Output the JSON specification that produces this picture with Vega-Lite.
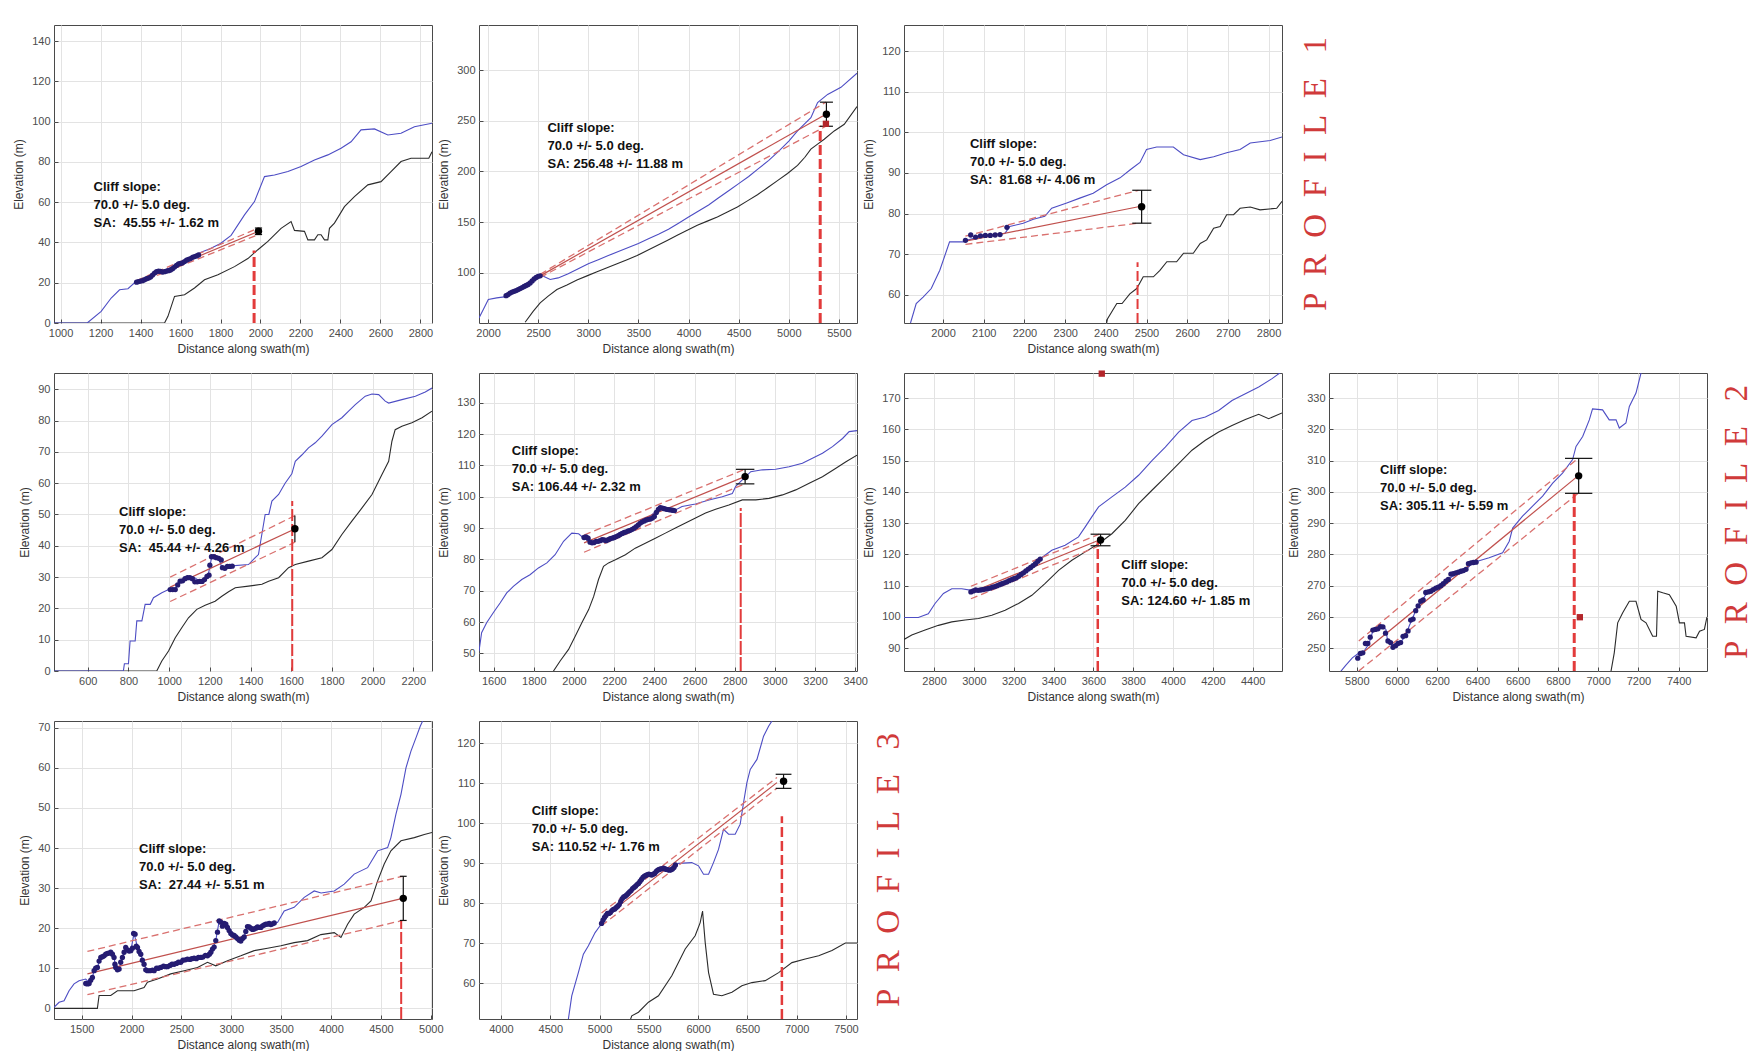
{
"$schema": "https://vega.github.io/schema/vega-lite/v6.json",
"padding": {"left": 12, "top": 24, "right": 0, "bottom": 0},
"background": "white",
"bounds": "flush",
"columns": 4,
"spacing": {"row": 50, "column": 47},
"config": {
 "view": {"stroke": "#4a4a4a", "strokeWidth": 1},
 "axis": {"gridColor": "#e3e3e3", "gridWidth": 1, "domain": false, "tickColor": "#4a4a4a", "tickSize": -4, "labelPadding": 8, "labelColor": "#4d4d4d", "labelFont": "Liberation Sans", "labelFontSize": 11, "titleFont": "Liberation Sans", "titleFontSize": 12, "titleFontWeight": "normal", "titleColor": "#333333", "labelFlush": false, "labelOverlap": false},
 "axisX": {"titlePadding": 5},
 "axisY": {"titlePadding": 6}
},
"concat": [
{"width": 378, "height": 298,
 "data": {"values": [
  {"s":"b","x":967,"y":0},{"s":"b","x":1133,"y":0},{"s":"b","x":1203,"y":5.8},{"s":"b","x":1253,"y":12.4},{"s":"b","x":1295,"y":16.5},{"s":"b","x":1337,"y":17},{"s":"b","x":1370,"y":20},{"s":"b","x":1400,"y":21},{"s":"b","x":1450,"y":23.5},{"s":"b","x":1500,"y":25.5},{"s":"b","x":1550,"y":27.5},{"s":"b","x":1600,"y":30},{"s":"b","x":1650,"y":32.5},{"s":"b","x":1700,"y":35},{"s":"b","x":1750,"y":37},{"s":"b","x":1800,"y":39.5},{"s":"b","x":1853,"y":43.5},{"s":"b","x":1920,"y":53.7},{"s":"b","x":1970,"y":60.3},{"s":"b","x":2020,"y":72.7},{"s":"b","x":2070,"y":73.5},{"s":"b","x":2137,"y":75.2},{"s":"b","x":2203,"y":77.7},{"s":"b","x":2270,"y":81},{"s":"b","x":2337,"y":83.5},{"s":"b","x":2403,"y":86.8},{"s":"b","x":2453,"y":90},{"s":"b","x":2503,"y":95.9},{"s":"b","x":2570,"y":96.4},{"s":"b","x":2637,"y":93.4},{"s":"b","x":2703,"y":94.2},{"s":"b","x":2770,"y":97.5},{"s":"b","x":2858,"y":99.2},
  {"s":"k","x":967,"y":0},{"s":"k","x":1520,"y":0},{"s":"k","x":1537,"y":3.3},{"s":"k","x":1570,"y":13.2},{"s":"k","x":1620,"y":14},{"s":"k","x":1670,"y":17.4},{"s":"k","x":1720,"y":21.5},{"s":"k","x":1787,"y":24},{"s":"k","x":1870,"y":28},{"s":"k","x":1937,"y":32},{"s":"k","x":1987,"y":36.4},{"s":"k","x":2037,"y":40.5},{"s":"k","x":2103,"y":47},{"s":"k","x":2153,"y":50.4},{"s":"k","x":2170,"y":46},{"s":"k","x":2220,"y":45.5},{"s":"k","x":2237,"y":41.3},{"s":"k","x":2270,"y":41.3},{"s":"k","x":2287,"y":43.8},{"s":"k","x":2303,"y":43.8},{"s":"k","x":2320,"y":41.3},{"s":"k","x":2337,"y":41.3},{"s":"k","x":2345,"y":47},{"s":"k","x":2370,"y":49.6},{"s":"k","x":2420,"y":57.8},{"s":"k","x":2470,"y":62.8},{"s":"k","x":2537,"y":68.6},{"s":"k","x":2603,"y":70.2},{"s":"k","x":2653,"y":75.2},{"s":"k","x":2703,"y":80.2},{"s":"k","x":2753,"y":81.8},{"s":"k","x":2842,"y":81.8},{"s":"k","x":2858,"y":85},
  {"s":"p","x":1380,"y":20.3},{"s":"p","x":1390,"y":20.6},{"s":"p","x":1400,"y":20.8},{"s":"p","x":1410,"y":21},{"s":"p","x":1420,"y":21.5},{"s":"p","x":1430,"y":22},{"s":"p","x":1440,"y":22.3},{"s":"p","x":1450,"y":22.8},{"s":"p","x":1460,"y":23.8},{"s":"p","x":1470,"y":24.8},{"s":"p","x":1480,"y":25.5},{"s":"p","x":1490,"y":25.8},{"s":"p","x":1500,"y":25.6},{"s":"p","x":1510,"y":25.3},{"s":"p","x":1520,"y":25.5},{"s":"p","x":1530,"y":25.8},{"s":"p","x":1540,"y":26},{"s":"p","x":1550,"y":26.3},{"s":"p","x":1560,"y":27},{"s":"p","x":1570,"y":27.8},{"s":"p","x":1580,"y":28.6},{"s":"p","x":1590,"y":29.3},{"s":"p","x":1600,"y":29.6},{"s":"p","x":1610,"y":29.9},{"s":"p","x":1620,"y":30.5},{"s":"p","x":1630,"y":31.2},{"s":"p","x":1640,"y":31.6},{"s":"p","x":1650,"y":32},{"s":"p","x":1660,"y":32.6},{"s":"p","x":1670,"y":33},{"s":"p","x":1680,"y":33.3},{"s":"p","x":1690,"y":33.8},
  {"s":"f","x":1380,"y":20.3},{"s":"f","x":1990,"y":45.55},
  {"s":"u","x":1380,"y":21.1},{"s":"u","x":1990,"y":47.17},
  {"s":"l","x":1380,"y":19.5},{"s":"l","x":1990,"y":43.93},
  {"s":"v","x":1968,"y":0,"y2":36},
  {"s":"e","x":1990,"y":45.55,"lo":43.93,"hi":47.17,"xl":1972,"xr":2008},
  {"s":"t","x":1165,"y":70.5,"label":"Cliff slope:\n70.0 +/- 5.0 deg.\n\u00a0SA:\u00a0 45.55 +/- 1.62 m"}
 ]},
 "encoding": {
  "x": {"field":"x","type":"quantitative","title":"Distance along swath(m)","scale":{"domain":[967,2858],"nice":false,"zero":false},"axis":{"values":[1000,1200,1400,1600,1800,2000,2200,2400,2600,2800],"format":"d"}},
  "y": {"field":"y","type":"quantitative","title":"Elevation (m)","scale":{"domain":[0,148],"nice":false,"zero":false},"axis":{"values":[0,20,40,60,80,100,120,140],"format":"d"}}
 },
 "layer": [
  {"transform":[{"filter":"datum.s==='k'"}],"mark":{"type":"line","color":"#2b2b2b","strokeWidth":1.1,"clip":true}},
  {"transform":[{"filter":"datum.s==='b'"}],"mark":{"type":"line","color":"#4d4dc4","strokeWidth":1.1,"clip":true}},
  {"transform":[{"filter":"datum.s==='u'||datum.s==='l'"}],"mark":{"type":"line","color":"#d9706e","strokeWidth":1.3,"strokeDash":[7,4],"clip":true},"encoding":{"detail":{"field":"s","type":"nominal"}}},
  {"transform":[{"filter":"datum.s==='f'"}],"mark":{"type":"line","color":"#c0504d","strokeWidth":1.2,"clip":true}},
  {"transform":[{"filter":"datum.s==='p'"}],"mark":{"type":"circle","color":"#251c72","opacity":1,"size":28,"clip":true}},
  {"transform":[{"filter":"datum.s==='v'"}],"mark":{"type":"rule","color":"#e23b3b","strokeWidth":3,"strokeDash":[10,4],"clip":true},"encoding":{"y2":{"field":"y2"}}},
  {"transform":[{"filter":"datum.s==='e'"}],"mark":{"type":"rule","color":"#111111","strokeWidth":1.2},"encoding":{"y":{"field":"lo","type":"quantitative"},"y2":{"field":"hi"}}},
  {"transform":[{"filter":"datum.s==='e'"}],"mark":{"type":"rule","color":"#111111","strokeWidth":1.2},"encoding":{"x":{"field":"xl","type":"quantitative"},"x2":{"field":"xr"},"y":{"field":"lo","type":"quantitative"}}},
  {"transform":[{"filter":"datum.s==='e'"}],"mark":{"type":"rule","color":"#111111","strokeWidth":1.2},"encoding":{"x":{"field":"xl","type":"quantitative"},"x2":{"field":"xr"},"y":{"field":"hi","type":"quantitative"}}},
  {"transform":[{"filter":"datum.s==='e'"}],"mark":{"type":"circle","color":"#000000","size":55,"opacity":1}},
  {"transform":[{"filter":"datum.s==='t'"}],"mark":{"type":"text","align":"left","baseline":"top","font":"Liberation Sans","fontWeight":"bold","fontSize":13,"lineBreak":"\n","lineHeight":18,"color":"#111111"},"encoding":{"text":{"field":"label"}}}
 ]
},
{"width": 378, "height": 298,
 "data": {"values": [
  {"s":"b","x":1910,"y":55.5},{"s":"b","x":1953,"y":63.8},{"s":"b","x":2003,"y":73.6},{"s":"b","x":2087,"y":75.3},{"s":"b","x":2180,"y":76.5},{"s":"b","x":2250,"y":80.5},{"s":"b","x":2320,"y":84.5},{"s":"b","x":2400,"y":88.5},{"s":"b","x":2450,"y":93},{"s":"b","x":2500,"y":97.5},{"s":"b","x":2553,"y":96.7},{"s":"b","x":2620,"y":93.4},{"s":"b","x":2700,"y":95},{"s":"b","x":2800,"y":99},{"s":"b","x":2900,"y":104},{"s":"b","x":3000,"y":109},{"s":"b","x":3100,"y":113},{"s":"b","x":3200,"y":117},{"s":"b","x":3300,"y":121},{"s":"b","x":3400,"y":125},{"s":"b","x":3500,"y":129},{"s":"b","x":3600,"y":133.5},{"s":"b","x":3700,"y":138},{"s":"b","x":3800,"y":143},{"s":"b","x":3900,"y":149},{"s":"b","x":4000,"y":155},{"s":"b","x":4100,"y":161},{"s":"b","x":4200,"y":167},{"s":"b","x":4300,"y":174},{"s":"b","x":4400,"y":181},{"s":"b","x":4500,"y":188},{"s":"b","x":4600,"y":195},{"s":"b","x":4700,"y":203},{"s":"b","x":4800,"y":211},{"s":"b","x":4900,"y":220},{"s":"b","x":5000,"y":230},{"s":"b","x":5087,"y":240},{"s":"b","x":5220,"y":253},{"s":"b","x":5287,"y":268},{"s":"b","x":5387,"y":276},{"s":"b","x":5520,"y":283},{"s":"b","x":5680,"y":297},
  {"s":"k","x":2370,"y":51.2},{"s":"k","x":2450,"y":62},{"s":"k","x":2520,"y":70.3},{"s":"k","x":2600,"y":77},{"s":"k","x":2687,"y":83.5},{"s":"k","x":2787,"y":88},{"s":"k","x":2887,"y":93},{"s":"k","x":2987,"y":97},{"s":"k","x":3087,"y":101},{"s":"k","x":3187,"y":105},{"s":"k","x":3287,"y":109},{"s":"k","x":3387,"y":113},{"s":"k","x":3487,"y":117},{"s":"k","x":3587,"y":122},{"s":"k","x":3687,"y":127},{"s":"k","x":3787,"y":132},{"s":"k","x":3887,"y":137},{"s":"k","x":3987,"y":142},{"s":"k","x":4087,"y":147},{"s":"k","x":4187,"y":151},{"s":"k","x":4287,"y":155},{"s":"k","x":4387,"y":160},{"s":"k","x":4487,"y":165},{"s":"k","x":4587,"y":171},{"s":"k","x":4687,"y":177},{"s":"k","x":4787,"y":184},{"s":"k","x":4887,"y":191},{"s":"k","x":4987,"y":198},{"s":"k","x":5087,"y":206},{"s":"k","x":5160,"y":214},{"s":"k","x":5220,"y":222},{"s":"k","x":5287,"y":227},{"s":"k","x":5353,"y":231.8},{"s":"k","x":5453,"y":240},{"s":"k","x":5553,"y":246.6},{"s":"k","x":5680,"y":264},
  {"s":"p","x":2180,"y":77.5},{"s":"p","x":2200,"y":78.5},{"s":"p","x":2220,"y":80},{"s":"p","x":2240,"y":81},{"s":"p","x":2260,"y":81.8},{"s":"p","x":2280,"y":82.5},{"s":"p","x":2300,"y":83.5},{"s":"p","x":2320,"y":84.5},{"s":"p","x":2340,"y":85.5},{"s":"p","x":2360,"y":86.5},{"s":"p","x":2380,"y":87.5},{"s":"p","x":2400,"y":88.5},{"s":"p","x":2420,"y":90},{"s":"p","x":2440,"y":92},{"s":"p","x":2460,"y":94},{"s":"p","x":2480,"y":95.5},{"s":"p","x":2500,"y":96.5},{"s":"p","x":2520,"y":97},
  {"s":"f","x":2520,"y":97},{"s":"f","x":5370,"y":256.48},
  {"s":"u","x":2520,"y":98.5},{"s":"u","x":5370,"y":268.36},
  {"s":"l","x":2520,"y":95.5},{"s":"l","x":5370,"y":244.6},
  {"s":"v","x":5313,"y":50.5,"y2":245},
  {"s":"e","x":5375,"y":256.48,"lo":244.6,"hi":268.36,"xl":5310,"xr":5440},
  {"s":"q","x":5370,"y":247},
  {"s":"t","x":2593,"y":249,"label":"Cliff slope:\n70.0 +/- 5.0 deg.\n\u00a0SA: 256.48 +/- 11.88 m"}
 ]},
 "encoding": {
  "x": {"field":"x","type":"quantitative","title":"Distance along swath(m)","scale":{"domain":[1910,5680],"nice":false,"zero":false},"axis":{"values":[2000,2500,3000,3500,4000,4500,5000,5500],"format":"d"}},
  "y": {"field":"y","type":"quantitative","title":"Elevation (m)","scale":{"domain":[50.5,344.5],"nice":false,"zero":false},"axis":{"values":[100,150,200,250,300],"format":"d"}}
 },
 "layer": [
  {"transform":[{"filter":"datum.s==='k'"}],"mark":{"type":"line","color":"#2b2b2b","strokeWidth":1.1,"clip":true}},
  {"transform":[{"filter":"datum.s==='b'"}],"mark":{"type":"line","color":"#4d4dc4","strokeWidth":1.1,"clip":true}},
  {"transform":[{"filter":"datum.s==='u'||datum.s==='l'"}],"mark":{"type":"line","color":"#d9706e","strokeWidth":1.3,"strokeDash":[7,4],"clip":true},"encoding":{"detail":{"field":"s","type":"nominal"}}},
  {"transform":[{"filter":"datum.s==='f'"}],"mark":{"type":"line","color":"#c0504d","strokeWidth":1.2,"clip":true}},
  {"transform":[{"filter":"datum.s==='p'"}],"mark":{"type":"circle","color":"#251c72","opacity":1,"size":28,"clip":true}},
  {"transform":[{"filter":"datum.s==='v'"}],"mark":{"type":"rule","color":"#e23b3b","strokeWidth":3,"strokeDash":[10,4],"clip":true},"encoding":{"y2":{"field":"y2"}}},
  {"transform":[{"filter":"datum.s==='e'"}],"mark":{"type":"rule","color":"#111111","strokeWidth":1.2},"encoding":{"y":{"field":"lo","type":"quantitative"},"y2":{"field":"hi"}}},
  {"transform":[{"filter":"datum.s==='e'"}],"mark":{"type":"rule","color":"#111111","strokeWidth":1.2},"encoding":{"x":{"field":"xl","type":"quantitative"},"x2":{"field":"xr"},"y":{"field":"lo","type":"quantitative"}}},
  {"transform":[{"filter":"datum.s==='e'"}],"mark":{"type":"rule","color":"#111111","strokeWidth":1.2},"encoding":{"x":{"field":"xl","type":"quantitative"},"x2":{"field":"xr"},"y":{"field":"hi","type":"quantitative"}}},
  {"transform":[{"filter":"datum.s==='e'"}],"mark":{"type":"circle","color":"#000000","size":55,"opacity":1}},
  {"transform":[{"filter":"datum.s==='q'"}],"mark":{"type":"square","color":"#b3262b","size":40,"opacity":1}},
  {"transform":[{"filter":"datum.s==='t'"}],"mark":{"type":"text","align":"left","baseline":"top","font":"Liberation Sans","fontWeight":"bold","fontSize":13,"lineBreak":"\n","lineHeight":18,"color":"#111111"},"encoding":{"text":{"field":"label"}}}
 ]
},
{"width": 378, "height": 298,
 "title": {"text": "P\u00a0\u00a0R\u00a0\u00a0O\u00a0\u00a0F\u00a0\u00a0I\u00a0\u00a0L\u00a0\u00a0E\u00a0\u00a0\u00a01", "orient": "right", "angle": -90, "baseline": "top", "anchor": "middle", "offset": -15, "font": "Liberation Serif", "fontSize": 33, "fontWeight": "normal", "color": "#d03a3a"},
 "data": {"values": [
  {"s":"b","x":1904,"y":50},{"s":"b","x":1920,"y":53},{"s":"b","x":1934,"y":57.8},{"s":"b","x":1951,"y":59.4},{"s":"b","x":1971,"y":61.5},{"s":"b","x":1992,"y":66},{"s":"b","x":2016,"y":73},{"s":"b","x":2049,"y":73},{"s":"b","x":2062,"y":73.5},{"s":"b","x":2107,"y":74.7},{"s":"b","x":2152,"y":75.1},{"s":"b","x":2164,"y":76.8},{"s":"b","x":2197,"y":77.6},{"s":"b","x":2222,"y":78.6},{"s":"b","x":2250,"y":79.3},{"s":"b","x":2267,"y":81.3},{"s":"b","x":2304,"y":82.6},{"s":"b","x":2336,"y":83.8},{"s":"b","x":2369,"y":85},{"s":"b","x":2402,"y":87.1},{"s":"b","x":2435,"y":88.8},{"s":"b","x":2460,"y":90.8},{"s":"b","x":2484,"y":92.6},{"s":"b","x":2500,"y":95.8},{"s":"b","x":2525,"y":96.4},{"s":"b","x":2566,"y":96.4},{"s":"b","x":2591,"y":94.5},{"s":"b","x":2632,"y":93.3},{"s":"b","x":2665,"y":94},{"s":"b","x":2697,"y":95},{"s":"b","x":2730,"y":95.8},{"s":"b","x":2755,"y":97.4},{"s":"b","x":2804,"y":98},{"s":"b","x":2833,"y":98.9},
  {"s":"k","x":2400,"y":52},{"s":"k","x":2404,"y":54},{"s":"k","x":2427,"y":57.8},{"s":"k","x":2440,"y":57.8},{"s":"k","x":2459,"y":60.2},{"s":"k","x":2476,"y":61.5},{"s":"k","x":2492,"y":64.4},{"s":"k","x":2517,"y":64.4},{"s":"k","x":2533,"y":66},{"s":"k","x":2550,"y":68.1},{"s":"k","x":2574,"y":68.1},{"s":"k","x":2591,"y":70.2},{"s":"k","x":2615,"y":70.2},{"s":"k","x":2632,"y":72.6},{"s":"k","x":2648,"y":73.5},{"s":"k","x":2665,"y":76.4},{"s":"k","x":2681,"y":76.8},{"s":"k","x":2697,"y":79.7},{"s":"k","x":2714,"y":79.7},{"s":"k","x":2730,"y":81.3},{"s":"k","x":2755,"y":81.6},{"s":"k","x":2779,"y":80.9},{"s":"k","x":2820,"y":81.3},{"s":"k","x":2833,"y":83},
  {"s":"p","x":2055,"y":73.4},{"s":"p","x":2068,"y":74.7},{"s":"p","x":2080,"y":74.2},{"s":"p","x":2092,"y":74.5},{"s":"p","x":2104,"y":74.6},{"s":"p","x":2116,"y":74.6},{"s":"p","x":2128,"y":74.7},{"s":"p","x":2140,"y":74.8},{"s":"p","x":2157,"y":76.6},
  {"s":"f","x":2055,"y":73.2},{"s":"f","x":2480,"y":81.68},
  {"s":"u","x":2055,"y":74.4},{"s":"u","x":2480,"y":85.74},
  {"s":"l","x":2055,"y":72.4},{"s":"l","x":2480,"y":77.62},
  {"s":"v","x":2478,"y":53,"y2":68},
  {"s":"e","x":2488,"y":81.68,"lo":77.62,"hi":85.74,"xl":2465,"xr":2512},
  {"s":"t","x":2066,"y":98.7,"label":"Cliff slope:\n70.0 +/- 5.0 deg.\n\u00a0SA:\u00a0 81.68 +/- 4.06 m"}
 ]},
 "encoding": {
  "x": {"field":"x","type":"quantitative","title":"Distance along swath(m)","scale":{"domain":[1904,2833],"nice":false,"zero":false},"axis":{"values":[1900,2000,2100,2200,2300,2400,2500,2600,2700,2800],"format":"d"}},
  "y": {"field":"y","type":"quantitative","title":"Elevation (m)","scale":{"domain":[53,126.5],"nice":false,"zero":false},"axis":{"values":[60,70,80,90,100,110,120],"format":"d"}}
 },
 "layer": [
  {"transform":[{"filter":"datum.s==='k'"}],"mark":{"type":"line","color":"#2b2b2b","strokeWidth":1.1,"clip":true}},
  {"transform":[{"filter":"datum.s==='b'"}],"mark":{"type":"line","color":"#4d4dc4","strokeWidth":1.1,"clip":true}},
  {"transform":[{"filter":"datum.s==='u'||datum.s==='l'"}],"mark":{"type":"line","color":"#d9706e","strokeWidth":1.3,"strokeDash":[7,4],"clip":true},"encoding":{"detail":{"field":"s","type":"nominal"}}},
  {"transform":[{"filter":"datum.s==='f'"}],"mark":{"type":"line","color":"#c0504d","strokeWidth":1.2,"clip":true}},
  {"transform":[{"filter":"datum.s==='p'"}],"mark":{"type":"circle","color":"#251c72","opacity":1,"size":28,"clip":true}},
  {"transform":[{"filter":"datum.s==='v'"}],"mark":{"type":"rule","color":"#e23b3b","strokeWidth":2,"strokeDash":[10,4],"clip":true},"encoding":{"y2":{"field":"y2"}}},
  {"transform":[{"filter":"datum.s==='e'"}],"mark":{"type":"rule","color":"#111111","strokeWidth":1.2},"encoding":{"y":{"field":"lo","type":"quantitative"},"y2":{"field":"hi"}}},
  {"transform":[{"filter":"datum.s==='e'"}],"mark":{"type":"rule","color":"#111111","strokeWidth":1.2},"encoding":{"x":{"field":"xl","type":"quantitative"},"x2":{"field":"xr"},"y":{"field":"lo","type":"quantitative"}}},
  {"transform":[{"filter":"datum.s==='e'"}],"mark":{"type":"rule","color":"#111111","strokeWidth":1.2},"encoding":{"x":{"field":"xl","type":"quantitative"},"x2":{"field":"xr"},"y":{"field":"hi","type":"quantitative"}}},
  {"transform":[{"filter":"datum.s==='e'"}],"mark":{"type":"circle","color":"#000000","size":55,"opacity":1}},
  {"transform":[{"filter":"datum.s==='t'"}],"mark":{"type":"text","align":"left","baseline":"top","font":"Liberation Sans","fontWeight":"bold","fontSize":13,"lineBreak":"\n","lineHeight":18,"color":"#111111"},"encoding":{"text":{"field":"label"}}}
 ]
},
{"width": 378, "height": 298, "view": {"stroke": null},
 "data": {"values": [{"s":"none"}]},
 "mark": {"type": "point", "opacity": 0},
 "encoding": {}
},
{"width": 378, "height": 298,
 "data": {"values": [
  {"s":"b","x":434,"y":0},{"s":"b","x":775,"y":0},{"s":"b","x":780,"y":2.3},{"s":"b","x":800,"y":2.3},{"s":"b","x":808,"y":9.6},{"s":"b","x":833,"y":9.6},{"s":"b","x":841,"y":16},{"s":"b","x":866,"y":16},{"s":"b","x":882,"y":21.3},{"s":"b","x":907,"y":21.3},{"s":"b","x":923,"y":23.4},{"s":"b","x":964,"y":25},{"s":"b","x":997,"y":26},{"s":"b","x":1030,"y":26},{"s":"b","x":1054,"y":28.7},{"s":"b","x":1087,"y":29.8},{"s":"b","x":1120,"y":30},{"s":"b","x":1144,"y":29},{"s":"b","x":1177,"y":29.3},{"s":"b","x":1193,"y":31},{"s":"b","x":1210,"y":36.7},{"s":"b","x":1243,"y":36.2},{"s":"b","x":1259,"y":33},{"s":"b","x":1292,"y":33.5},{"s":"b","x":1390,"y":34},{"s":"b","x":1423,"y":36.2},{"s":"b","x":1439,"y":37.2},{"s":"b","x":1472,"y":50},{"s":"b","x":1490,"y":50},{"s":"b","x":1505,"y":54.3},{"s":"b","x":1538,"y":56.4},{"s":"b","x":1570,"y":60},{"s":"b","x":1603,"y":63},{"s":"b","x":1620,"y":67},{"s":"b","x":1652,"y":69},{"s":"b","x":1685,"y":71.3},{"s":"b","x":1718,"y":72.9},{"s":"b","x":1751,"y":75},{"s":"b","x":1800,"y":78.7},{"s":"b","x":1849,"y":80.9},{"s":"b","x":1882,"y":83},{"s":"b","x":1915,"y":85.1},{"s":"b","x":1964,"y":87.8},{"s":"b","x":1997,"y":88.5},{"s":"b","x":2030,"y":88.3},{"s":"b","x":2062,"y":86.2},{"s":"b","x":2079,"y":85.6},{"s":"b","x":2144,"y":86.7},{"s":"b","x":2210,"y":87.8},{"s":"b","x":2259,"y":89.1},{"s":"b","x":2292,"y":90.4},
  {"s":"k","x":434,"y":0},{"s":"k","x":939,"y":0},{"s":"k","x":964,"y":3.2},{"s":"k","x":997,"y":6.4},{"s":"k","x":1030,"y":10.6},{"s":"k","x":1062,"y":13.8},{"s":"k","x":1095,"y":17},{"s":"k","x":1136,"y":19.7},{"s":"k","x":1177,"y":21},{"s":"k","x":1226,"y":22.3},{"s":"k","x":1259,"y":23.9},{"s":"k","x":1292,"y":25.3},{"s":"k","x":1325,"y":26.6},{"s":"k","x":1390,"y":27.1},{"s":"k","x":1456,"y":27.7},{"s":"k","x":1489,"y":28.7},{"s":"k","x":1538,"y":29.8},{"s":"k","x":1587,"y":33},{"s":"k","x":1620,"y":34},{"s":"k","x":1685,"y":35.1},{"s":"k","x":1751,"y":36.2},{"s":"k","x":1800,"y":38.8},{"s":"k","x":1849,"y":43.6},{"s":"k","x":1898,"y":47.9},{"s":"k","x":1948,"y":52.1},{"s":"k","x":1997,"y":56.4},{"s":"k","x":2046,"y":62.8},{"s":"k","x":2079,"y":67},{"s":"k","x":2095,"y":73.4},{"s":"k","x":2111,"y":77.1},{"s":"k","x":2144,"y":78.2},{"s":"k","x":2193,"y":79.3},{"s":"k","x":2243,"y":80.9},{"s":"k","x":2292,"y":83},
  {"s":"p","x":1005,"y":26},{"s":"p","x":1018,"y":26},{"s":"p","x":1030,"y":26},{"s":"p","x":1042,"y":27.5},{"s":"p","x":1054,"y":28.7},{"s":"p","x":1066,"y":28.8},{"s":"p","x":1078,"y":29.5},{"s":"p","x":1090,"y":29.8},{"s":"p","x":1102,"y":29.8},{"s":"p","x":1114,"y":29.5},{"s":"p","x":1126,"y":28.5},{"s":"p","x":1138,"y":28.5},{"s":"p","x":1150,"y":28.6},{"s":"p","x":1162,"y":28.6},{"s":"p","x":1174,"y":29.2},{"s":"p","x":1186,"y":30.2},{"s":"p","x":1196,"y":30.6},{"s":"p","x":1200,"y":33.8},{"s":"p","x":1208,"y":36.5},{"s":"p","x":1220,"y":36.5},{"s":"p","x":1232,"y":36.2},{"s":"p","x":1244,"y":36},{"s":"p","x":1256,"y":35.5},{"s":"p","x":1262,"y":33},{"s":"p","x":1274,"y":32.8},{"s":"p","x":1286,"y":33.4},{"s":"p","x":1298,"y":33.4},{"s":"p","x":1310,"y":33.5},
  {"s":"f","x":1005,"y":26.8},{"s":"f","x":1620,"y":45.44},
  {"s":"u","x":1005,"y":30},{"s":"u","x":1620,"y":49.7},
  {"s":"l","x":1005,"y":22.2},{"s":"l","x":1620,"y":41.2},
  {"s":"v","x":1605,"y":0,"y2":54.3},
  {"s":"e","x":1618,"y":45.44,"lo":41.18,"hi":49.7,"xl":1612,"xr":1624},
  {"s":"t","x":754,"y":52.7,"label":"Cliff slope:\n70.0 +/- 5.0 deg.\n\u00a0SA:\u00a0 45.44 +/- 4.26 m"}
 ]},
 "encoding": {
  "x": {"field":"x","type":"quantitative","title":"Distance along swath(m)","scale":{"domain":[434,2292],"nice":false,"zero":false},"axis":{"values":[600,800,1000,1200,1400,1600,1800,2000,2200],"format":"d"}},
  "y": {"field":"y","type":"quantitative","title":"Elevation (m)","scale":{"domain":[0,95.2],"nice":false,"zero":false},"axis":{"values":[0,10,20,30,40,50,60,70,80,90],"format":"d"}}
 },
 "layer": [
  {"transform":[{"filter":"datum.s==='k'"}],"mark":{"type":"line","color":"#2b2b2b","strokeWidth":1.1,"clip":true}},
  {"transform":[{"filter":"datum.s==='b'"}],"mark":{"type":"line","color":"#4d4dc4","strokeWidth":1.1,"clip":true}},
  {"transform":[{"filter":"datum.s==='u'||datum.s==='l'"}],"mark":{"type":"line","color":"#d9706e","strokeWidth":1.3,"strokeDash":[7,4],"clip":true},"encoding":{"detail":{"field":"s","type":"nominal"}}},
  {"transform":[{"filter":"datum.s==='f'"}],"mark":{"type":"line","color":"#c0504d","strokeWidth":1.2,"clip":true}},
  {"transform":[{"filter":"datum.s==='p'"}],"mark":{"type":"circle","color":"#251c72","opacity":1,"size":28,"clip":true}},
  {"transform":[{"filter":"datum.s==='v'"}],"mark":{"type":"rule","color":"#e23b3b","strokeWidth":2,"strokeDash":[12,3],"clip":true},"encoding":{"y2":{"field":"y2"}}},
  {"transform":[{"filter":"datum.s==='e'"}],"mark":{"type":"rule","color":"#111111","strokeWidth":1.2},"encoding":{"y":{"field":"lo","type":"quantitative"},"y2":{"field":"hi"}}},
  {"transform":[{"filter":"datum.s==='e'"}],"mark":{"type":"circle","color":"#000000","size":55,"opacity":1}},
  {"transform":[{"filter":"datum.s==='t'"}],"mark":{"type":"text","align":"left","baseline":"top","font":"Liberation Sans","fontWeight":"bold","fontSize":13,"lineBreak":"\n","lineHeight":18,"color":"#111111"},"encoding":{"text":{"field":"label"}}}
 ]
},
{"width": 378, "height": 298,
 "data": {"values": [
  {"s":"b","x":1527,"y":50.7},{"s":"b","x":1540,"y":56.6},{"s":"b","x":1565,"y":59.8},{"s":"b","x":1598,"y":63},{"s":"b","x":1632,"y":66.1},{"s":"b","x":1665,"y":69.3},{"s":"b","x":1698,"y":71.4},{"s":"b","x":1740,"y":73.6},{"s":"b","x":1781,"y":75.1},{"s":"b","x":1823,"y":77.3},{"s":"b","x":1865,"y":78.9},{"s":"b","x":1906,"y":81.5},{"s":"b","x":1948,"y":85.8},{"s":"b","x":1989,"y":88.4},{"s":"b","x":2023,"y":88.2},{"s":"b","x":2043,"y":87.1},{"s":"b","x":2080,"y":85.5},{"s":"b","x":2150,"y":86.2},{"s":"b","x":2250,"y":88.6},{"s":"b","x":2350,"y":92.3},{"s":"b","x":2420,"y":96},{"s":"b","x":2500,"y":95.6},{"s":"b","x":2538,"y":96.9},{"s":"b","x":2605,"y":97.7},{"s":"b","x":2672,"y":99},{"s":"b","x":2738,"y":100},{"s":"b","x":2788,"y":101},{"s":"b","x":2805,"y":103.3},{"s":"b","x":2838,"y":105.4},{"s":"b","x":2880,"y":108},{"s":"b","x":2938,"y":108.6},{"s":"b","x":3004,"y":108.8},{"s":"b","x":3071,"y":109.6},{"s":"b","x":3137,"y":110.7},{"s":"b","x":3187,"y":112.3},{"s":"b","x":3237,"y":113.9},{"s":"b","x":3287,"y":116},{"s":"b","x":3337,"y":118.6},{"s":"b","x":3370,"y":120.8},{"s":"b","x":3409,"y":121.1},
  {"s":"k","x":1890,"y":43},{"s":"k","x":1898,"y":44.4},{"s":"k","x":1931,"y":47.6},{"s":"k","x":1973,"y":51.3},{"s":"k","x":2006,"y":55.5},{"s":"k","x":2039,"y":59.8},{"s":"k","x":2073,"y":64},{"s":"k","x":2098,"y":68.2},{"s":"k","x":2122,"y":73.6},{"s":"k","x":2147,"y":77.8},{"s":"k","x":2172,"y":78.9},{"s":"k","x":2206,"y":79.9},{"s":"k","x":2256,"y":81.5},{"s":"k","x":2305,"y":83.6},{"s":"k","x":2355,"y":85.2},{"s":"k","x":2405,"y":86.8},{"s":"k","x":2455,"y":88.4},{"s":"k","x":2505,"y":90},{"s":"k","x":2555,"y":91.6},{"s":"k","x":2605,"y":93.2},{"s":"k","x":2655,"y":94.8},{"s":"k","x":2705,"y":96},{"s":"k","x":2771,"y":97.4},{"s":"k","x":2838,"y":99},{"s":"k","x":2905,"y":99},{"s":"k","x":2971,"y":99.5},{"s":"k","x":3038,"y":100.6},{"s":"k","x":3104,"y":102.2},{"s":"k","x":3171,"y":104.3},{"s":"k","x":3237,"y":106.4},{"s":"k","x":3304,"y":109.1},{"s":"k","x":3354,"y":111.2},{"s":"k","x":3409,"y":113.3},
  {"s":"p","x":2050,"y":87},{"s":"p","x":2060,"y":87.2},{"s":"p","x":2070,"y":86.8},{"s":"p","x":2080,"y":85.5},{"s":"p","x":2090,"y":85.3},{"s":"p","x":2100,"y":85.4},{"s":"p","x":2110,"y":85.8},{"s":"p","x":2120,"y":85.8},{"s":"p","x":2130,"y":86},{"s":"p","x":2140,"y":86.3},{"s":"p","x":2150,"y":86.2},{"s":"p","x":2160,"y":86},{"s":"p","x":2170,"y":86.3},{"s":"p","x":2180,"y":86.6},{"s":"p","x":2190,"y":86.8},{"s":"p","x":2200,"y":87},{"s":"p","x":2210,"y":87.3},{"s":"p","x":2220,"y":87.6},{"s":"p","x":2230,"y":88},{"s":"p","x":2240,"y":88.3},{"s":"p","x":2250,"y":88.6},{"s":"p","x":2260,"y":88.8},{"s":"p","x":2270,"y":89.1},{"s":"p","x":2280,"y":89.3},{"s":"p","x":2290,"y":89.6},{"s":"p","x":2300,"y":90},{"s":"p","x":2310,"y":90.5},{"s":"p","x":2320,"y":91},{"s":"p","x":2330,"y":91.6},{"s":"p","x":2340,"y":92},{"s":"p","x":2350,"y":92.3},{"s":"p","x":2360,"y":92.6},{"s":"p","x":2370,"y":92.8},{"s":"p","x":2380,"y":92.9},{"s":"p","x":2390,"y":93.2},{"s":"p","x":2400,"y":93.7},{"s":"p","x":2410,"y":95},{"s":"p","x":2420,"y":96},{"s":"p","x":2430,"y":96.5},{"s":"p","x":2440,"y":96.4},{"s":"p","x":2450,"y":96.2},{"s":"p","x":2460,"y":96},{"s":"p","x":2470,"y":95.9},{"s":"p","x":2480,"y":95.8},{"s":"p","x":2490,"y":95.7},{"s":"p","x":2500,"y":95.6},
  {"s":"f","x":2050,"y":85.3},{"s":"f","x":2850,"y":106.44},
  {"s":"u","x":2050,"y":87.8},{"s":"u","x":2850,"y":108.76},
  {"s":"l","x":2050,"y":82.3},{"s":"l","x":2850,"y":104.12},
  {"s":"v","x":2830,"y":44.4,"y2":96.4},
  {"s":"e","x":2852,"y":106.44,"lo":104.12,"hi":108.76,"xl":2806,"xr":2898},
  {"s":"t","x":1690,"y":116.5,"label":"Cliff slope:\n70.0 +/- 5.0 deg.\n\u00a0SA: 106.44 +/- 2.32 m"}
 ]},
 "encoding": {
  "x": {"field":"x","type":"quantitative","title":"Distance along swath(m)","scale":{"domain":[1527,3409],"nice":false,"zero":false},"axis":{"values":[1600,1800,2000,2200,2400,2600,2800,3000,3200,3400],"format":"d"}},
  "y": {"field":"y","type":"quantitative","title":"Elevation (m)","scale":{"domain":[44.4,139.5],"nice":false,"zero":false},"axis":{"values":[50,60,70,80,90,100,110,120,130],"format":"d"}}
 },
 "layer": [
  {"transform":[{"filter":"datum.s==='k'"}],"mark":{"type":"line","color":"#2b2b2b","strokeWidth":1.1,"clip":true}},
  {"transform":[{"filter":"datum.s==='b'"}],"mark":{"type":"line","color":"#4d4dc4","strokeWidth":1.1,"clip":true}},
  {"transform":[{"filter":"datum.s==='u'||datum.s==='l'"}],"mark":{"type":"line","color":"#d9706e","strokeWidth":1.3,"strokeDash":[7,4],"clip":true},"encoding":{"detail":{"field":"s","type":"nominal"}}},
  {"transform":[{"filter":"datum.s==='f'"}],"mark":{"type":"line","color":"#c0504d","strokeWidth":1.2,"clip":true}},
  {"transform":[{"filter":"datum.s==='p'"}],"mark":{"type":"circle","color":"#251c72","opacity":1,"size":28,"clip":true}},
  {"transform":[{"filter":"datum.s==='v'"}],"mark":{"type":"rule","color":"#e23b3b","strokeWidth":2,"strokeDash":[14,2],"clip":true},"encoding":{"y2":{"field":"y2"}}},
  {"transform":[{"filter":"datum.s==='e'"}],"mark":{"type":"rule","color":"#111111","strokeWidth":1.2},"encoding":{"y":{"field":"lo","type":"quantitative"},"y2":{"field":"hi"}}},
  {"transform":[{"filter":"datum.s==='e'"}],"mark":{"type":"rule","color":"#111111","strokeWidth":1.2},"encoding":{"x":{"field":"xl","type":"quantitative"},"x2":{"field":"xr"},"y":{"field":"lo","type":"quantitative"}}},
  {"transform":[{"filter":"datum.s==='e'"}],"mark":{"type":"rule","color":"#111111","strokeWidth":1.2},"encoding":{"x":{"field":"xl","type":"quantitative"},"x2":{"field":"xr"},"y":{"field":"hi","type":"quantitative"}}},
  {"transform":[{"filter":"datum.s==='e'"}],"mark":{"type":"circle","color":"#000000","size":55,"opacity":1}},
  {"transform":[{"filter":"datum.s==='t'"}],"mark":{"type":"text","align":"left","baseline":"top","font":"Liberation Sans","fontWeight":"bold","fontSize":13,"lineBreak":"\n","lineHeight":18,"color":"#111111"},"encoding":{"text":{"field":"label"}}}
 ]
},
{"width": 378, "height": 298,
 "data": {"values": [
  {"s":"b","x":2649,"y":99.8},{"s":"b","x":2721,"y":99.8},{"s":"b","x":2771,"y":101},{"s":"b","x":2805,"y":104.3},{"s":"b","x":2847,"y":107.5},{"s":"b","x":2889,"y":109},{"s":"b","x":2939,"y":109},{"s":"b","x":2989,"y":108.5},{"s":"b","x":3050,"y":108.8},{"s":"b","x":3100,"y":109.6},{"s":"b","x":3150,"y":110.8},{"s":"b","x":3200,"y":112.3},{"s":"b","x":3250,"y":114.2},{"s":"b","x":3300,"y":116.6},{"s":"b","x":3333,"y":118.6},{"s":"b","x":3391,"y":121.3},{"s":"b","x":3458,"y":122.9},{"s":"b","x":3525,"y":125.6},{"s":"b","x":3559,"y":128.8},{"s":"b","x":3592,"y":132},{"s":"b","x":3626,"y":135.2},{"s":"b","x":3693,"y":138.4},{"s":"b","x":3760,"y":141.5},{"s":"b","x":3827,"y":145.3},{"s":"b","x":3894,"y":150},{"s":"b","x":3961,"y":154.3},{"s":"b","x":4028,"y":159.1},{"s":"b","x":4095,"y":162.8},{"s":"b","x":4162,"y":163.9},{"s":"b","x":4229,"y":166},{"s":"b","x":4296,"y":169.2},{"s":"b","x":4363,"y":171.4},{"s":"b","x":4430,"y":173.5},{"s":"b","x":4497,"y":176.2},{"s":"b","x":4547,"y":178.5},
  {"s":"k","x":2649,"y":92.8},{"s":"k","x":2688,"y":94.2},{"s":"k","x":2755,"y":95.8},{"s":"k","x":2822,"y":97.3},{"s":"k","x":2889,"y":98.4},{"s":"k","x":2956,"y":99},{"s":"k","x":3023,"y":99.5},{"s":"k","x":3090,"y":100.5},{"s":"k","x":3157,"y":102.1},{"s":"k","x":3224,"y":104.3},{"s":"k","x":3291,"y":106.9},{"s":"k","x":3358,"y":110.7},{"s":"k","x":3425,"y":114.9},{"s":"k","x":3492,"y":118.1},{"s":"k","x":3559,"y":120.8},{"s":"k","x":3626,"y":123.4},{"s":"k","x":3693,"y":126.6},{"s":"k","x":3760,"y":130.9},{"s":"k","x":3827,"y":136.2},{"s":"k","x":3894,"y":140.5},{"s":"k","x":3961,"y":144.7},{"s":"k","x":4028,"y":149},{"s":"k","x":4095,"y":153.3},{"s":"k","x":4162,"y":156.5},{"s":"k","x":4229,"y":159.1},{"s":"k","x":4296,"y":161.2},{"s":"k","x":4363,"y":163.1},{"s":"k","x":4430,"y":164.8},{"s":"k","x":4480,"y":163.4},{"s":"k","x":4547,"y":165.2},
  {"s":"p","x":2985,"y":108},{"s":"p","x":2997,"y":108.3},{"s":"p","x":3009,"y":108.6},{"s":"p","x":3021,"y":108.5},{"s":"p","x":3033,"y":108.6},{"s":"p","x":3045,"y":108.7},{"s":"p","x":3057,"y":108.9},{"s":"p","x":3069,"y":109},{"s":"p","x":3081,"y":109.2},{"s":"p","x":3093,"y":109.5},{"s":"p","x":3105,"y":109.7},{"s":"p","x":3117,"y":110},{"s":"p","x":3129,"y":110.3},{"s":"p","x":3141,"y":110.6},{"s":"p","x":3153,"y":110.9},{"s":"p","x":3165,"y":111.2},{"s":"p","x":3177,"y":111.6},{"s":"p","x":3189,"y":111.9},{"s":"p","x":3201,"y":112.2},{"s":"p","x":3213,"y":112.5},{"s":"p","x":3225,"y":113},{"s":"p","x":3237,"y":113.6},{"s":"p","x":3249,"y":114.1},{"s":"p","x":3261,"y":114.7},{"s":"p","x":3273,"y":115.3},{"s":"p","x":3285,"y":115.8},{"s":"p","x":3297,"y":116.4},{"s":"p","x":3309,"y":117},{"s":"p","x":3321,"y":117.8},{"s":"p","x":3333,"y":118.5},
  {"s":"f","x":2985,"y":107.8},{"s":"f","x":3630,"y":124.6},
  {"s":"u","x":2985,"y":109.8},{"s":"u","x":3630,"y":126.45},
  {"s":"l","x":2985,"y":105.8},{"s":"l","x":3630,"y":122.75},
  {"s":"v","x":3622,"y":82.7,"y2":124},
  {"s":"e","x":3636,"y":124.6,"lo":122.75,"hi":126.45,"xl":3586,"xr":3686},
  {"s":"q","x":3642,"y":177.8},
  {"s":"t","x":3740,"y":118.5,"label":"Cliff slope:\n70.0 +/- 5.0 deg.\n\u00a0SA: 124.60 +/- 1.85 m"}
 ]},
 "encoding": {
  "x": {"field":"x","type":"quantitative","title":"Distance along swath(m)","scale":{"domain":[2649,4547],"nice":false,"zero":false},"axis":{"values":[2800,3000,3200,3400,3600,3800,4000,4200,4400],"format":"d"}},
  "y": {"field":"y","type":"quantitative","title":"Elevation (m)","scale":{"domain":[82.7,178],"nice":false,"zero":false},"axis":{"values":[90,100,110,120,130,140,150,160,170],"format":"d"}}
 },
 "layer": [
  {"transform":[{"filter":"datum.s==='k'"}],"mark":{"type":"line","color":"#2b2b2b","strokeWidth":1.1,"clip":true}},
  {"transform":[{"filter":"datum.s==='b'"}],"mark":{"type":"line","color":"#4d4dc4","strokeWidth":1.1,"clip":true}},
  {"transform":[{"filter":"datum.s==='u'||datum.s==='l'"}],"mark":{"type":"line","color":"#d9706e","strokeWidth":1.3,"strokeDash":[7,4],"clip":true},"encoding":{"detail":{"field":"s","type":"nominal"}}},
  {"transform":[{"filter":"datum.s==='f'"}],"mark":{"type":"line","color":"#c0504d","strokeWidth":1.2,"clip":true}},
  {"transform":[{"filter":"datum.s==='p'"}],"mark":{"type":"circle","color":"#251c72","opacity":1,"size":28,"clip":true}},
  {"transform":[{"filter":"datum.s==='v'"}],"mark":{"type":"rule","color":"#e23b3b","strokeWidth":2.5,"strokeDash":[10,4],"clip":true},"encoding":{"y2":{"field":"y2"}}},
  {"transform":[{"filter":"datum.s==='e'"}],"mark":{"type":"rule","color":"#111111","strokeWidth":1.2},"encoding":{"y":{"field":"lo","type":"quantitative"},"y2":{"field":"hi"}}},
  {"transform":[{"filter":"datum.s==='e'"}],"mark":{"type":"rule","color":"#111111","strokeWidth":1.2},"encoding":{"x":{"field":"xl","type":"quantitative"},"x2":{"field":"xr"},"y":{"field":"lo","type":"quantitative"}}},
  {"transform":[{"filter":"datum.s==='e'"}],"mark":{"type":"rule","color":"#111111","strokeWidth":1.2},"encoding":{"x":{"field":"xl","type":"quantitative"},"x2":{"field":"xr"},"y":{"field":"hi","type":"quantitative"}}},
  {"transform":[{"filter":"datum.s==='e'"}],"mark":{"type":"circle","color":"#000000","size":55,"opacity":1}},
  {"transform":[{"filter":"datum.s==='q'"}],"mark":{"type":"square","color":"#b3262b","size":40,"opacity":1}},
  {"transform":[{"filter":"datum.s==='t'"}],"mark":{"type":"text","align":"left","baseline":"top","font":"Liberation Sans","fontWeight":"bold","fontSize":13,"lineBreak":"\n","lineHeight":18,"color":"#111111"},"encoding":{"text":{"field":"label"}}}
 ]
},
{"width": 378, "height": 298,
 "title": {"text": "P\u00a0\u00a0R\u00a0\u00a0O\u00a0\u00a0F\u00a0\u00a0I\u00a0\u00a0L\u00a0\u00a0E\u00a0\u00a0\u00a02", "orient": "right", "angle": -90, "baseline": "top", "anchor": "middle", "offset": -19, "font": "Liberation Serif", "fontSize": 33, "fontWeight": "normal", "color": "#d03a3a"},
 "data": {"values": [
  {"s":"b","x":5662,"y":238},{"s":"b","x":5745,"y":244.5},{"s":"b","x":5778,"y":246.9},{"s":"b","x":5812,"y":248.5},{"s":"b","x":5836,"y":249},{"s":"b","x":5861,"y":251.5},{"s":"b","x":5880,"y":255.5},{"s":"b","x":5895,"y":256.5},{"s":"b","x":5928,"y":257},{"s":"b","x":5945,"y":256},{"s":"b","x":5953,"y":252.5},{"s":"b","x":5969,"y":251.5},{"s":"b","x":5994,"y":250.8},{"s":"b","x":6019,"y":252},{"s":"b","x":6044,"y":254},{"s":"b","x":6060,"y":257},{"s":"b","x":6077,"y":259.5},{"s":"b","x":6102,"y":263.5},{"s":"b","x":6127,"y":265.5},{"s":"b","x":6152,"y":268},{"s":"b","x":6176,"y":268.5},{"s":"b","x":6210,"y":269.8},{"s":"b","x":6243,"y":271.4},{"s":"b","x":6276,"y":273},{"s":"b","x":6309,"y":274.1},{"s":"b","x":6342,"y":275},{"s":"b","x":6375,"y":277.3},{"s":"b","x":6400,"y":277.8},{"s":"b","x":6458,"y":278.9},{"s":"b","x":6525,"y":280.5},{"s":"b","x":6558,"y":284.2},{"s":"b","x":6575,"y":288.4},{"s":"b","x":6624,"y":292.2},{"s":"b","x":6674,"y":295.4},{"s":"b","x":6724,"y":298.6},{"s":"b","x":6774,"y":302.8},{"s":"b","x":6823,"y":306},{"s":"b","x":6873,"y":310.3},{"s":"b","x":6890,"y":314.5},{"s":"b","x":6923,"y":317.7},{"s":"b","x":6956,"y":323},{"s":"b","x":6972,"y":326.5},{"s":"b","x":7022,"y":326.2},{"s":"b","x":7055,"y":323},{"s":"b","x":7089,"y":323},{"s":"b","x":7105,"y":320.4},{"s":"b","x":7138,"y":322},{"s":"b","x":7155,"y":327.3},{"s":"b","x":7188,"y":331.6},{"s":"b","x":7213,"y":338},{"s":"b","x":7240,"y":345},
  {"s":"k","x":7060,"y":235},{"s":"k","x":7064,"y":242.7},{"s":"k","x":7080,"y":248.5},{"s":"k","x":7097,"y":258.1},{"s":"k","x":7122,"y":261.3},{"s":"k","x":7155,"y":265},{"s":"k","x":7188,"y":265},{"s":"k","x":7213,"y":259.2},{"s":"k","x":7238,"y":258.1},{"s":"k","x":7271,"y":253.8},{"s":"k","x":7290,"y":253.8},{"s":"k","x":7296,"y":268.2},{"s":"k","x":7321,"y":267.7},{"s":"k","x":7354,"y":267.1},{"s":"k","x":7388,"y":263.4},{"s":"k","x":7404,"y":258.1},{"s":"k","x":7429,"y":258.1},{"s":"k","x":7437,"y":253.8},{"s":"k","x":7487,"y":253.3},{"s":"k","x":7504,"y":255.4},{"s":"k","x":7528,"y":256},{"s":"k","x":7541,"y":260},
  {"s":"p","x":5805,"y":246.8},{"s":"p","x":5818,"y":248.3},{"s":"p","x":5830,"y":248.5},{"s":"p","x":5843,"y":251.5},{"s":"p","x":5855,"y":251.5},{"s":"p","x":5867,"y":253.5},{"s":"p","x":5880,"y":255.8},{"s":"p","x":5892,"y":256},{"s":"p","x":5905,"y":256.2},{"s":"p","x":5918,"y":256.9},{"s":"p","x":5930,"y":256.8},{"s":"p","x":5943,"y":254.8},{"s":"p","x":5955,"y":252.3},{"s":"p","x":5968,"y":251.8},{"s":"p","x":5980,"y":250.3},{"s":"p","x":5993,"y":250.8},{"s":"p","x":6005,"y":251.5},{"s":"p","x":6018,"y":251.8},{"s":"p","x":6030,"y":253.8},{"s":"p","x":6043,"y":254},{"s":"p","x":6055,"y":255.5},{"s":"p","x":6068,"y":259},{"s":"p","x":6080,"y":259.3},{"s":"p","x":6093,"y":262},{"s":"p","x":6105,"y":263.5},{"s":"p","x":6118,"y":265},{"s":"p","x":6130,"y":265.4},{"s":"p","x":6143,"y":267.8},{"s":"p","x":6155,"y":268},{"s":"p","x":6168,"y":268.2},{"s":"p","x":6180,"y":268.7},{"s":"p","x":6193,"y":269.2},{"s":"p","x":6205,"y":269.5},{"s":"p","x":6218,"y":270},{"s":"p","x":6230,"y":270.6},{"s":"p","x":6243,"y":271.4},{"s":"p","x":6255,"y":272},{"s":"p","x":6268,"y":273.7},{"s":"p","x":6280,"y":273.8},{"s":"p","x":6293,"y":274.1},{"s":"p","x":6305,"y":274.3},{"s":"p","x":6318,"y":274.6},{"s":"p","x":6330,"y":274.8},{"s":"p","x":6343,"y":275.2},{"s":"p","x":6355,"y":277},{"s":"p","x":6368,"y":277.3},{"s":"p","x":6380,"y":277.4},{"s":"p","x":6393,"y":277.5},
  {"s":"f","x":5810,"y":247.5},{"s":"f","x":6900,"y":305.11},
  {"s":"u","x":5810,"y":252.3},{"s":"u","x":6900,"y":310.7},
  {"s":"l","x":5810,"y":242.7},{"s":"l","x":6900,"y":299.52},
  {"s":"v","x":6881,"y":242.7,"y2":299.5},
  {"s":"e","x":6903,"y":305.11,"lo":299.52,"hi":310.7,"xl":6835,"xr":6971},
  {"s":"q","x":6909,"y":259.9},
  {"s":"t","x":5916,"y":309,"label":"Cliff slope:\n70.0 +/- 5.0 deg.\n\u00a0SA: 305.11 +/- 5.59 m"}
 ]},
 "encoding": {
  "x": {"field":"x","type":"quantitative","title":"Distance along swath(m)","scale":{"domain":[5662,7541],"nice":false,"zero":false},"axis":{"values":[5800,6000,6200,6400,6600,6800,7000,7200,7400],"format":"d"}},
  "y": {"field":"y","type":"quantitative","title":"Elevation (m)","scale":{"domain":[242.7,338],"nice":false,"zero":false},"axis":{"values":[250,260,270,280,290,300,310,320,330],"format":"d"}}
 },
 "layer": [
  {"transform":[{"filter":"datum.s==='k'"}],"mark":{"type":"line","color":"#2b2b2b","strokeWidth":1.1,"clip":true}},
  {"transform":[{"filter":"datum.s==='b'"}],"mark":{"type":"line","color":"#4d4dc4","strokeWidth":1.1,"clip":true}},
  {"transform":[{"filter":"datum.s==='u'||datum.s==='l'"}],"mark":{"type":"line","color":"#d9706e","strokeWidth":1.3,"strokeDash":[7,4],"clip":true},"encoding":{"detail":{"field":"s","type":"nominal"}}},
  {"transform":[{"filter":"datum.s==='f'"}],"mark":{"type":"line","color":"#c0504d","strokeWidth":1.2,"clip":true}},
  {"transform":[{"filter":"datum.s==='p'"}],"mark":{"type":"circle","color":"#251c72","opacity":1,"size":28,"clip":true}},
  {"transform":[{"filter":"datum.s==='v'"}],"mark":{"type":"rule","color":"#e23b3b","strokeWidth":3,"strokeDash":[10,4],"clip":true},"encoding":{"y2":{"field":"y2"}}},
  {"transform":[{"filter":"datum.s==='e'"}],"mark":{"type":"rule","color":"#111111","strokeWidth":1.2},"encoding":{"y":{"field":"lo","type":"quantitative"},"y2":{"field":"hi"}}},
  {"transform":[{"filter":"datum.s==='e'"}],"mark":{"type":"rule","color":"#111111","strokeWidth":1.2},"encoding":{"x":{"field":"xl","type":"quantitative"},"x2":{"field":"xr"},"y":{"field":"lo","type":"quantitative"}}},
  {"transform":[{"filter":"datum.s==='e'"}],"mark":{"type":"rule","color":"#111111","strokeWidth":1.2},"encoding":{"x":{"field":"xl","type":"quantitative"},"x2":{"field":"xr"},"y":{"field":"hi","type":"quantitative"}}},
  {"transform":[{"filter":"datum.s==='e'"}],"mark":{"type":"circle","color":"#000000","size":55,"opacity":1}},
  {"transform":[{"filter":"datum.s==='q'"}],"mark":{"type":"square","color":"#b3262b","size":40,"opacity":1}},
  {"transform":[{"filter":"datum.s==='t'"}],"mark":{"type":"text","align":"left","baseline":"top","font":"Liberation Sans","fontWeight":"bold","fontSize":13,"lineBreak":"\n","lineHeight":18,"color":"#111111"},"encoding":{"text":{"field":"label"}}}
 ]
},
{"width": 378, "height": 298,
 "data": {"values": [
  {"s":"b","x":1222,"y":0.25},{"s":"b","x":1273,"y":1.5},{"s":"b","x":1323,"y":1.9},{"s":"b","x":1373,"y":4.4},{"s":"b","x":1423,"y":6.1},{"s":"b","x":1473,"y":6.9},{"s":"b","x":1540,"y":7.3},{"s":"b","x":1574,"y":6.5},{"s":"b","x":1607,"y":7.7},{"s":"b","x":1624,"y":9.4},{"s":"b","x":1657,"y":10.2},{"s":"b","x":1691,"y":12.7},{"s":"b","x":1724,"y":13.1},{"s":"b","x":1758,"y":13.7},{"s":"b","x":1791,"y":14},{"s":"b","x":1824,"y":12.7},{"s":"b","x":1841,"y":10.2},{"s":"b","x":1875,"y":9.8},{"s":"b","x":1908,"y":12.7},{"s":"b","x":1941,"y":15.2},{"s":"b","x":1992,"y":14.4},{"s":"b","x":2025,"y":18.7},{"s":"b","x":2059,"y":15.2},{"s":"b","x":2092,"y":13.5},{"s":"b","x":2125,"y":11},{"s":"b","x":2159,"y":9.4},{"s":"b","x":2226,"y":9.4},{"s":"b","x":2293,"y":10.2},{"s":"b","x":2360,"y":10.4},{"s":"b","x":2427,"y":11},{"s":"b","x":2493,"y":11.5},{"s":"b","x":2560,"y":12.3},{"s":"b","x":2627,"y":12.5},{"s":"b","x":2694,"y":12.7},{"s":"b","x":2761,"y":13.1},{"s":"b","x":2811,"y":14.8},{"s":"b","x":2844,"y":16.9},{"s":"b","x":2878,"y":21.8},{"s":"b","x":2945,"y":21},{"s":"b","x":2978,"y":19.4},{"s":"b","x":3028,"y":18.2},{"s":"b","x":3079,"y":17},{"s":"b","x":3129,"y":17.8},{"s":"b","x":3162,"y":20.4},{"s":"b","x":3229,"y":19.8},{"s":"b","x":3296,"y":20.2},{"s":"b","x":3363,"y":21},{"s":"b","x":3430,"y":21.3},{"s":"b","x":3463,"y":21.4},{"s":"b","x":3530,"y":24.3},{"s":"b","x":3630,"y":25.2},{"s":"b","x":3731,"y":27.7},{"s":"b","x":3831,"y":29.3},{"s":"b","x":3900,"y":28.8},{"s":"b","x":4032,"y":29.3},{"s":"b","x":4132,"y":31},{"s":"b","x":4232,"y":33.5},{"s":"b","x":4366,"y":35.1},{"s":"b","x":4467,"y":39.3},{"s":"b","x":4567,"y":40.1},{"s":"b","x":4600,"y":42.6},{"s":"b","x":4650,"y":48.4},{"s":"b","x":4701,"y":53.4},{"s":"b","x":4751,"y":60},{"s":"b","x":4801,"y":64.2},{"s":"b","x":4851,"y":67.5},{"s":"b","x":4894,"y":70.4},{"s":"b","x":4918,"y":71.7},{"s":"b","x":4940,"y":74},
  {"s":"k","x":1222,"y":0},{"s":"k","x":1657,"y":0},{"s":"k","x":1674,"y":3.2},{"s":"k","x":1791,"y":3.2},{"s":"k","x":1858,"y":4.4},{"s":"k","x":2025,"y":4.4},{"s":"k","x":2125,"y":5.2},{"s":"k","x":2159,"y":6.5},{"s":"k","x":2259,"y":7.3},{"s":"k","x":2393,"y":8.6},{"s":"k","x":2527,"y":9.4},{"s":"k","x":2661,"y":10.2},{"s":"k","x":2761,"y":11.5},{"s":"k","x":2844,"y":10.6},{"s":"k","x":2962,"y":11.9},{"s":"k","x":3095,"y":13.1},{"s":"k","x":3229,"y":14.4},{"s":"k","x":3363,"y":15},{"s":"k","x":3497,"y":15.6},{"s":"k","x":3630,"y":16.4},{"s":"k","x":3764,"y":16.9},{"s":"k","x":3898,"y":18.4},{"s":"k","x":4032,"y":18.9},{"s":"k","x":4099,"y":17.7},{"s":"k","x":4166,"y":21},{"s":"k","x":4232,"y":23.5},{"s":"k","x":4333,"y":25.2},{"s":"k","x":4400,"y":26.8},{"s":"k","x":4467,"y":31.8},{"s":"k","x":4533,"y":36},{"s":"k","x":4600,"y":39.3},{"s":"k","x":4701,"y":41.8},{"s":"k","x":4835,"y":42.6},{"s":"k","x":4935,"y":43.4},{"s":"k","x":5012,"y":43.9},
  {"s":"p","x":1540,"y":6.2},{"s":"p","x":1557,"y":6.1},{"s":"p","x":1574,"y":6.2},{"s":"p","x":1590,"y":7},{"s":"p","x":1607,"y":7.7},{"s":"p","x":1624,"y":9.4},{"s":"p","x":1640,"y":10},{"s":"p","x":1657,"y":10.2},{"s":"p","x":1674,"y":11.8},{"s":"p","x":1691,"y":12.7},{"s":"p","x":1708,"y":12.9},{"s":"p","x":1724,"y":13.1},{"s":"p","x":1741,"y":13.5},{"s":"p","x":1758,"y":13.7},{"s":"p","x":1775,"y":13.8},{"s":"p","x":1791,"y":14},{"s":"p","x":1808,"y":13.5},{"s":"p","x":1824,"y":12.7},{"s":"p","x":1833,"y":11},{"s":"p","x":1841,"y":10.2},{"s":"p","x":1858,"y":9.6},{"s":"p","x":1875,"y":9.8},{"s":"p","x":1891,"y":11.5},{"s":"p","x":1908,"y":12.7},{"s":"p","x":1925,"y":14},{"s":"p","x":1941,"y":15.2},{"s":"p","x":1958,"y":14.6},{"s":"p","x":1975,"y":14.3},{"s":"p","x":1992,"y":14.4},{"s":"p","x":2008,"y":15},{"s":"p","x":2020,"y":18.7},{"s":"p","x":2035,"y":18.5},{"s":"p","x":2047,"y":15.5},{"s":"p","x":2059,"y":15.2},{"s":"p","x":2075,"y":14.2},{"s":"p","x":2092,"y":13.5},{"s":"p","x":2108,"y":12},{"s":"p","x":2125,"y":11},{"s":"p","x":2142,"y":9.6},{"s":"p","x":2159,"y":9.4},{"s":"p","x":2185,"y":9.4},{"s":"p","x":2210,"y":9.5},{"s":"p","x":2226,"y":9.4},{"s":"p","x":2250,"y":10},{"s":"p","x":2270,"y":10},{"s":"p","x":2293,"y":10.2},{"s":"p","x":2320,"y":10.5},{"s":"p","x":2340,"y":10.4},{"s":"p","x":2360,"y":10.4},{"s":"p","x":2385,"y":10.7},{"s":"p","x":2405,"y":11},{"s":"p","x":2427,"y":11},{"s":"p","x":2450,"y":11.2},{"s":"p","x":2470,"y":11.5},{"s":"p","x":2493,"y":11.5},{"s":"p","x":2515,"y":12},{"s":"p","x":2540,"y":12.1},{"s":"p","x":2560,"y":12.3},{"s":"p","x":2585,"y":12.2},{"s":"p","x":2605,"y":12.4},{"s":"p","x":2627,"y":12.5},{"s":"p","x":2650,"y":12.4},{"s":"p","x":2670,"y":12.7},{"s":"p","x":2694,"y":12.7},{"s":"p","x":2715,"y":12.8},{"s":"p","x":2740,"y":13.2},{"s":"p","x":2761,"y":13.1},{"s":"p","x":2780,"y":13.5},{"s":"p","x":2795,"y":14},{"s":"p","x":2811,"y":14.8},{"s":"p","x":2828,"y":15.3},{"s":"p","x":2844,"y":16.9},{"s":"p","x":2861,"y":19},{"s":"p","x":2878,"y":21.8},{"s":"p","x":2895,"y":21.5},{"s":"p","x":2911,"y":20.5},{"s":"p","x":2928,"y":21.2},{"s":"p","x":2945,"y":21},{"s":"p","x":2961,"y":20.2},{"s":"p","x":2978,"y":19.4},{"s":"p","x":2995,"y":18.7},{"s":"p","x":3012,"y":18.3},{"s":"p","x":3028,"y":18.2},{"s":"p","x":3045,"y":17.8},{"s":"p","x":3062,"y":17.4},{"s":"p","x":3079,"y":17},{"s":"p","x":3095,"y":16.8},{"s":"p","x":3112,"y":17.4},{"s":"p","x":3129,"y":17.8},{"s":"p","x":3145,"y":19.2},{"s":"p","x":3162,"y":20.4},{"s":"p","x":3179,"y":20.3},{"s":"p","x":3195,"y":20},{"s":"p","x":3212,"y":19.7},{"s":"p","x":3229,"y":19.8},{"s":"p","x":3246,"y":20},{"s":"p","x":3262,"y":20.3},{"s":"p","x":3279,"y":20.2},{"s":"p","x":3296,"y":20.2},{"s":"p","x":3313,"y":20.6},{"s":"p","x":3330,"y":20.8},{"s":"p","x":3346,"y":21},{"s":"p","x":3363,"y":21},{"s":"p","x":3380,"y":21.2},{"s":"p","x":3396,"y":20.9},{"s":"p","x":3413,"y":21.1},{"s":"p","x":3430,"y":21.3},
  {"s":"f","x":1557,"y":8.6},{"s":"f","x":4717,"y":27.44},
  {"s":"u","x":1557,"y":14.2},{"s":"u","x":4717,"y":32.95},
  {"s":"l","x":1557,"y":3.4},{"s":"l","x":4717,"y":21.93},
  {"s":"v","x":4703,"y":-2.66,"y2":22},
  {"s":"e","x":4724,"y":27.44,"lo":21.93,"hi":32.95,"xl":4690,"xr":4758},
  {"s":"t","x":2075,"y":41.2,"label":"Cliff slope:\n70.0 +/- 5.0 deg.\n\u00a0SA:\u00a0 27.44 +/- 5.51 m"}
 ]},
 "encoding": {
  "x": {"field":"x","type":"quantitative","title":"Distance along swath(m)","scale":{"domain":[1222,5012],"nice":false,"zero":false},"axis":{"values":[1500,2000,2500,3000,3500,4000,4500,5000],"format":"d"}},
  "y": {"field":"y","type":"quantitative","title":"Elevation (m)","scale":{"domain":[-2.66,71.7],"nice":false,"zero":false},"axis":{"values":[0,10,20,30,40,50,60,70],"format":"d"}}
 },
 "layer": [
  {"transform":[{"filter":"datum.s==='k'"}],"mark":{"type":"line","color":"#2b2b2b","strokeWidth":1.1,"clip":true}},
  {"transform":[{"filter":"datum.s==='b'"}],"mark":{"type":"line","color":"#4d4dc4","strokeWidth":1.1,"clip":true}},
  {"transform":[{"filter":"datum.s==='u'||datum.s==='l'"}],"mark":{"type":"line","color":"#d9706e","strokeWidth":1.3,"strokeDash":[7,4],"clip":true},"encoding":{"detail":{"field":"s","type":"nominal"}}},
  {"transform":[{"filter":"datum.s==='f'"}],"mark":{"type":"line","color":"#c0504d","strokeWidth":1.2,"clip":true}},
  {"transform":[{"filter":"datum.s==='p'"}],"mark":{"type":"circle","color":"#251c72","opacity":1,"size":28,"clip":true}},
  {"transform":[{"filter":"datum.s==='v'"}],"mark":{"type":"rule","color":"#e23b3b","strokeWidth":2,"strokeDash":[12,3],"clip":true},"encoding":{"y2":{"field":"y2"}}},
  {"transform":[{"filter":"datum.s==='e'"}],"mark":{"type":"rule","color":"#111111","strokeWidth":1.2},"encoding":{"y":{"field":"lo","type":"quantitative"},"y2":{"field":"hi"}}},
  {"transform":[{"filter":"datum.s==='e'"}],"mark":{"type":"rule","color":"#111111","strokeWidth":1.2},"encoding":{"x":{"field":"xl","type":"quantitative"},"x2":{"field":"xr"},"y":{"field":"lo","type":"quantitative"}}},
  {"transform":[{"filter":"datum.s==='e'"}],"mark":{"type":"rule","color":"#111111","strokeWidth":1.2},"encoding":{"x":{"field":"xl","type":"quantitative"},"x2":{"field":"xr"},"y":{"field":"hi","type":"quantitative"}}},
  {"transform":[{"filter":"datum.s==='e'"}],"mark":{"type":"circle","color":"#000000","size":55,"opacity":1}},
  {"transform":[{"filter":"datum.s==='t'"}],"mark":{"type":"text","align":"left","baseline":"top","font":"Liberation Sans","fontWeight":"bold","fontSize":13,"lineBreak":"\n","lineHeight":18,"color":"#111111"},"encoding":{"text":{"field":"label"}}}
 ]
},
{"width": 378, "height": 298,
 "title": {"text": "P\u00a0\u00a0R\u00a0\u00a0O\u00a0\u00a0F\u00a0\u00a0I\u00a0\u00a0L\u00a0\u00a0E\u00a0\u00a0\u00a03", "orient": "right", "angle": -90, "baseline": "top", "anchor": "middle", "offset": -18, "font": "Liberation Serif", "fontSize": 33, "fontWeight": "normal", "color": "#d03a3a"},
 "data": {"values": [
  {"s":"b","x":4670,"y":45},{"s":"b","x":4684,"y":51.1},{"s":"b","x":4718,"y":56.9},{"s":"b","x":4785,"y":62.7},{"s":"b","x":4836,"y":67.3},{"s":"b","x":4887,"y":69.4},{"s":"b","x":4955,"y":72.7},{"s":"b","x":5005,"y":74.4},{"s":"b","x":5020,"y":75},{"s":"b","x":5100,"y":77.5},{"s":"b","x":5200,"y":79.7},{"s":"b","x":5300,"y":82.7},{"s":"b","x":5400,"y":85.3},{"s":"b","x":5500,"y":87.3},{"s":"b","x":5600,"y":88.4},{"s":"b","x":5700,"y":88.4},{"s":"b","x":5780,"y":89.6},{"s":"b","x":5801,"y":90},{"s":"b","x":5936,"y":90.2},{"s":"b","x":6004,"y":89.4},{"s":"b","x":6055,"y":87.3},{"s":"b","x":6106,"y":87.3},{"s":"b","x":6156,"y":90.2},{"s":"b","x":6207,"y":93.5},{"s":"b","x":6258,"y":98.5},{"s":"b","x":6309,"y":97.3},{"s":"b","x":6376,"y":97.3},{"s":"b","x":6427,"y":99.8},{"s":"b","x":6461,"y":105.2},{"s":"b","x":6495,"y":110.2},{"s":"b","x":6529,"y":113.5},{"s":"b","x":6597,"y":116},{"s":"b","x":6664,"y":121.8},{"s":"b","x":6715,"y":124.3},{"s":"b","x":6749,"y":125.6},{"s":"b","x":6780,"y":128},
  {"s":"k","x":5300,"y":50},{"s":"k","x":5327,"y":51.9},{"s":"k","x":5395,"y":52.8},{"s":"k","x":5496,"y":55.3},{"s":"k","x":5598,"y":56.9},{"s":"k","x":5733,"y":61.9},{"s":"k","x":5869,"y":68.6},{"s":"k","x":5970,"y":71.9},{"s":"k","x":6021,"y":75.2},{"s":"k","x":6045,"y":78.1},{"s":"k","x":6072,"y":70.2},{"s":"k","x":6106,"y":62.7},{"s":"k","x":6156,"y":57.3},{"s":"k","x":6241,"y":56.9},{"s":"k","x":6343,"y":57.8},{"s":"k","x":6444,"y":59.4},{"s":"k","x":6546,"y":60.2},{"s":"k","x":6681,"y":60.7},{"s":"k","x":6817,"y":62.7},{"s":"k","x":6952,"y":65.2},{"s":"k","x":7087,"y":66.1},{"s":"k","x":7223,"y":66.9},{"s":"k","x":7358,"y":68.2},{"s":"k","x":7494,"y":70.1},{"s":"k","x":7612,"y":70.1},
  {"s":"p","x":5020,"y":75},{"s":"p","x":5035,"y":75.8},{"s":"p","x":5050,"y":76.5},{"s":"p","x":5065,"y":77},{"s":"p","x":5080,"y":77.5},{"s":"p","x":5095,"y":77.5},{"s":"p","x":5110,"y":77.7},{"s":"p","x":5125,"y":78.2},{"s":"p","x":5140,"y":78.5},{"s":"p","x":5155,"y":78.6},{"s":"p","x":5170,"y":79},{"s":"p","x":5185,"y":79.3},{"s":"p","x":5200,"y":79.7},{"s":"p","x":5215,"y":80.5},{"s":"p","x":5230,"y":81.2},{"s":"p","x":5245,"y":81.6},{"s":"p","x":5260,"y":81.8},{"s":"p","x":5275,"y":82.1},{"s":"p","x":5290,"y":82.5},{"s":"p","x":5305,"y":82.9},{"s":"p","x":5320,"y":83.2},{"s":"p","x":5335,"y":83.7},{"s":"p","x":5350,"y":84},{"s":"p","x":5365,"y":84.3},{"s":"p","x":5380,"y":84.7},{"s":"p","x":5395,"y":85},{"s":"p","x":5410,"y":85.5},{"s":"p","x":5425,"y":86},{"s":"p","x":5440,"y":86.5},{"s":"p","x":5455,"y":86.8},{"s":"p","x":5470,"y":87},{"s":"p","x":5485,"y":87.2},{"s":"p","x":5500,"y":87.3},{"s":"p","x":5515,"y":87.2},{"s":"p","x":5530,"y":87.1},{"s":"p","x":5545,"y":87.3},{"s":"p","x":5560,"y":87.5},{"s":"p","x":5575,"y":88},{"s":"p","x":5590,"y":88.3},{"s":"p","x":5605,"y":88.5},{"s":"p","x":5620,"y":88.6},{"s":"p","x":5635,"y":88.7},{"s":"p","x":5650,"y":88.8},{"s":"p","x":5665,"y":88.6},{"s":"p","x":5680,"y":88.5},{"s":"p","x":5695,"y":88.4},{"s":"p","x":5710,"y":88.3},{"s":"p","x":5725,"y":88.4},{"s":"p","x":5740,"y":88.6},{"s":"p","x":5755,"y":89},{"s":"p","x":5770,"y":89.6},
  {"s":"f","x":5020,"y":76},{"s":"f","x":6800,"y":110.2},
  {"s":"u","x":5020,"y":77.6},{"s":"u","x":6800,"y":111.5},
  {"s":"l","x":5020,"y":74.4},{"s":"l","x":6800,"y":108.8},
  {"s":"v","x":6850,"y":51.1,"y2":101.8},
  {"s":"e","x":6867,"y":110.52,"lo":108.76,"hi":112.28,"xl":6787,"xr":6947},
  {"s":"t","x":4311,"y":104.6,"label":"Cliff slope:\n70.0 +/- 5.0 deg.\n\u00a0SA: 110.52 +/- 1.76 m"}
 ]},
 "encoding": {
  "x": {"field":"x","type":"quantitative","title":"Distance along swath(m)","scale":{"domain":[3777,7612],"nice":false,"zero":false},"axis":{"values":[4000,4500,5000,5500,6000,6500,7000,7500],"format":"d"}},
  "y": {"field":"y","type":"quantitative","title":"Elevation (m)","scale":{"domain":[51.1,125.6],"nice":false,"zero":false},"axis":{"values":[60,70,80,90,100,110,120],"format":"d"}}
 },
 "layer": [
  {"transform":[{"filter":"datum.s==='k'"}],"mark":{"type":"line","color":"#2b2b2b","strokeWidth":1.1,"clip":true}},
  {"transform":[{"filter":"datum.s==='b'"}],"mark":{"type":"line","color":"#4d4dc4","strokeWidth":1.1,"clip":true}},
  {"transform":[{"filter":"datum.s==='u'||datum.s==='l'"}],"mark":{"type":"line","color":"#d9706e","strokeWidth":1.3,"strokeDash":[7,4],"clip":true},"encoding":{"detail":{"field":"s","type":"nominal"}}},
  {"transform":[{"filter":"datum.s==='f'"}],"mark":{"type":"line","color":"#c0504d","strokeWidth":1.2,"clip":true}},
  {"transform":[{"filter":"datum.s==='p'"}],"mark":{"type":"circle","color":"#251c72","opacity":1,"size":28,"clip":true}},
  {"transform":[{"filter":"datum.s==='v'"}],"mark":{"type":"rule","color":"#e23b3b","strokeWidth":2.5,"strokeDash":[10,4],"clip":true},"encoding":{"y2":{"field":"y2"}}},
  {"transform":[{"filter":"datum.s==='e'"}],"mark":{"type":"rule","color":"#111111","strokeWidth":1.2},"encoding":{"y":{"field":"lo","type":"quantitative"},"y2":{"field":"hi"}}},
  {"transform":[{"filter":"datum.s==='e'"}],"mark":{"type":"rule","color":"#111111","strokeWidth":1.2},"encoding":{"x":{"field":"xl","type":"quantitative"},"x2":{"field":"xr"},"y":{"field":"lo","type":"quantitative"}}},
  {"transform":[{"filter":"datum.s==='e'"}],"mark":{"type":"rule","color":"#111111","strokeWidth":1.2},"encoding":{"x":{"field":"xl","type":"quantitative"},"x2":{"field":"xr"},"y":{"field":"hi","type":"quantitative"}}},
  {"transform":[{"filter":"datum.s==='e'"}],"mark":{"type":"circle","color":"#000000","size":55,"opacity":1}},
  {"transform":[{"filter":"datum.s==='t'"}],"mark":{"type":"text","align":"left","baseline":"top","font":"Liberation Sans","fontWeight":"bold","fontSize":13,"lineBreak":"\n","lineHeight":18,"color":"#111111"},"encoding":{"text":{"field":"label"}}}
 ]
}
]
}
